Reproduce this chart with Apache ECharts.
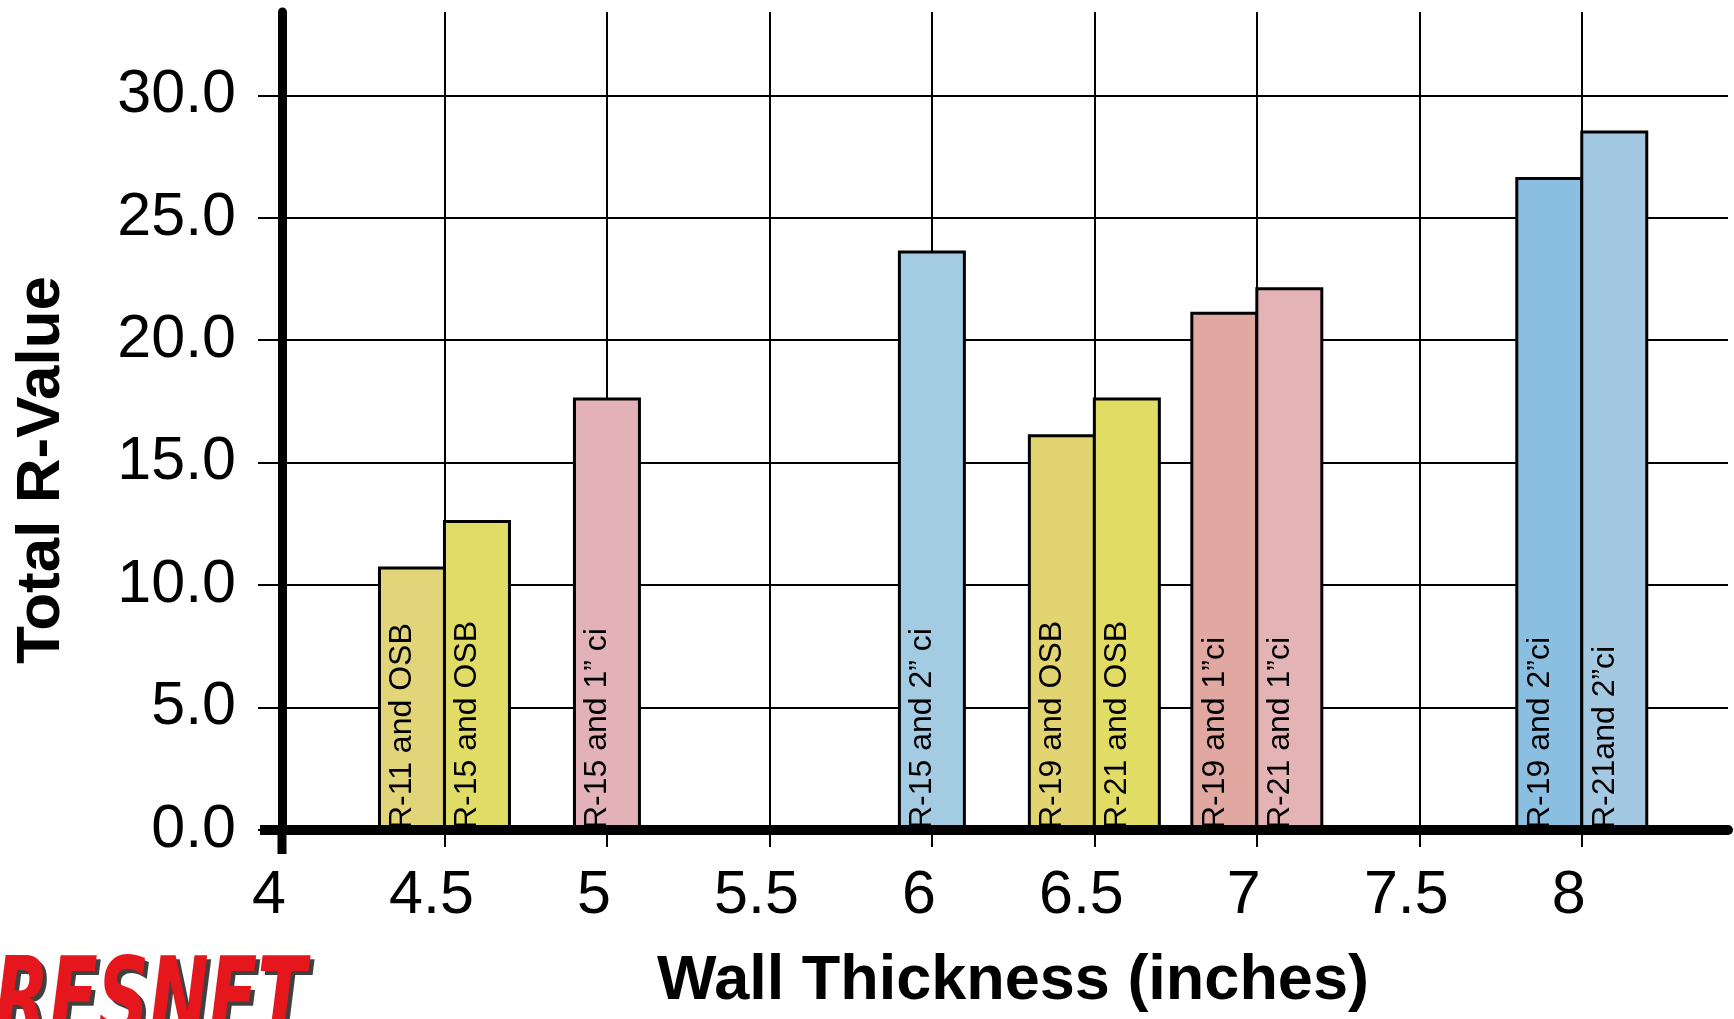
<!DOCTYPE html>
<html>
<head>
<meta charset="utf-8">
<title>Total R-Value by Wall Thickness</title>
<script src="https://cdn.jsdelivr.net/npm/echarts@6/dist/echarts.min.js"></script>
<style>
  html, body { margin: 0; padding: 0; background: #fff; }
  #chart { width: 1734px; height: 1019px; }
</style>
</head>
<body>
<div id="chart"></div>
<script>
// Wall assemblies: cavity insulation + sheathing / continuous insulation
const assemblies = [
  'R-11 and OSB', 'R-15 and OSB', 'R-15 and 1\u201D ci', 'R-15 and 2\u201D ci',
  'R-19 and OSB', 'R-21 and OSB', 'R-19 and 1\u201Dci', 'R-21 and 1\u201Dci',
  'R-19 and 2\u201Dci', 'R-21and 2\u201Dci'
];
// Nominal wall thickness (inches) for each assembly
const wallThickness = [4.5, 4.5, 5, 6, 6.5, 6.5, 7, 7, 8, 8];
// Total R-value of each assembly
const totalRValue = [10.7, 12.6, 17.6, 23.6, 16.1, 17.6, 21.1, 22.1, 26.6, 28.5];
const barColors = [
  '#E2D478', '#E1DC66', '#E3B2B9', '#A3CCE2', '#E2D470',
  '#E1DD64', '#E1A8A2', '#E3B3B5', '#8ABFE2', '#A3C9E2'
];
const xTicks = [4, 4.5, 5, 5.5, 6, 6.5, 7, 7.5, 8];
const yTicks = [0, 5, 10, 15, 20, 25, 30];

const FONT = '"Liberation Sans", Arial, Helvetica, sans-serif';
const BAR_W = 0.2;      // bar width, in inches along the x axis
const Y_STUB = 24;      // y axis line continues below the zero line
const X_STUB = 22;      // zero line continues left of the y axis

// Bars sharing one thickness stand side by side, centred on that thickness
const barCentre = wallThickness.map((t, i) => {
  const group = [];
  wallThickness.forEach((v, j) => { if (v === t) group.push(j); });
  const k = group.indexOf(i);
  return t + (k - (group.length - 1) / 2) * BAR_W;
});

function renderBar(params, api) {
  const i = params.dataIndex;
  const c = api.value(0);
  const v = api.value(1);
  const topLeft = api.coord([c - BAR_W / 2, v]);
  const bottomRight = api.coord([c + BAR_W / 2, 0]);
  return {
    type: 'group',
    children: [
      {
        type: 'rect',
        shape: {
          x: topLeft[0], y: topLeft[1],
          width: bottomRight[0] - topLeft[0],
          height: bottomRight[1] - topLeft[1]
        },
        style: { fill: barColors[i], stroke: '#000', lineWidth: 3 }
      },
      {
        type: 'text',
        x: topLeft[0] + 23,
        y: bottomRight[1] - 1,
        rotation: Math.PI / 2,
        style: {
          text: assemblies[i],
          fill: '#000',
          font: '32px ' + FONT,
          align: 'left',
          verticalAlign: 'middle'
        }
      }
    ]
  };
}

const chart = echarts.init(document.getElementById('chart'), null, { renderer: 'canvas' });

const option = {
  animation: false,
  backgroundColor: '#fff',
  grid: { left: 282, right: 6, top: 12, bottom: 189, outerBoundsMode: 'none' },
  xAxis: [
    {
      type: 'value',
      min: 4,
      max: 8.45,
      axisLine: { show: false },
      axisTick: {
        show: true, length: 17, customValues: xTicks,
        lineStyle: { color: '#000', width: 2 }
      },
      axisLabel: {
        customValues: xTicks,
        margin: 36,
        fontSize: 61,
        color: '#000',
        fontFamily: FONT,
        padding: [0, 26, 0, 0],
        formatter: v => String(v)
      },
      splitLine: { show: true, lineStyle: { color: '#000', width: 2 } },
      name: 'Wall Thickness (inches)',
      nameLocation: 'middle',
      nameGap: 120,
      nameTextStyle: {
        fontSize: 63, fontWeight: 'bold', color: '#000', fontFamily: FONT,
        padding: [0, 0, 0, 16]
      }
    },
    {
      // heavy zero line drawn above the bars
      type: 'value',
      min: 4,
      max: 8.45,
      position: 'bottom',
      z: 5,
      axisLine: { show: true, lineStyle: { color: '#000', width: 10 } },
      axisTick: { show: false },
      axisLabel: { show: false },
      splitLine: { show: false }
    }
  ],
  yAxis: {
    type: 'value',
    min: 0,
    max: 33.4,
    axisLine: { show: true, lineStyle: { color: '#000', width: 9 } },
    axisTick: {
      show: true, length: 24, customValues: yTicks,
      lineStyle: { color: '#000', width: 2 }
    },
    axisLabel: {
      customValues: yTicks,
      margin: 46,
      fontSize: 61,
      color: '#000',
      fontFamily: FONT,
      formatter: v => v.toFixed(1)
    },
    splitLine: { show: true, lineStyle: { color: '#000', width: 2 } },
    name: 'Total R-Value',
    nameLocation: 'middle',
    nameRotate: 90,
    nameGap: 209,
    nameTextStyle: {
      fontSize: 62, fontWeight: 'bold', color: '#000', fontFamily: FONT,
      padding: [0, 98, 0, 0]
    }
  },
  series: [
    {
      type: 'custom',
      name: 'Total R-Value',
      xAxisIndex: 0,
      yAxisIndex: 0,
      z: 2,
      renderItem: renderBar,
      encode: { x: 0, y: 1 },
      data: barCentre.map((c, i) => [c, totalRValue[i]])
    }
  ]
};

chart.setOption(option);

// Axis line stubs crossing at the origin, and the RESNET mark
const origin = chart.convertToPixel({ gridIndex: 0 }, [4, 0]);
const LOGO_FONT = 'italic bold 88px "Liberation Sans Narrow", "DejaVu Sans Condensed", ' + FONT;
chart.setOption({
  graphic: [
    {
      type: 'line', z: 10,
      shape: { x1: origin[0], y1: origin[1], x2: origin[0], y2: origin[1] + Y_STUB },
      style: { stroke: '#000', lineWidth: 9 }
    },
    {
      type: 'line', z: 10,
      shape: { x1: origin[0] - X_STUB, y1: origin[1], x2: origin[0], y2: origin[1] },
      style: { stroke: '#000', lineWidth: 10 }
    },
    {
      type: 'text', x: -2, y: 956, scaleX: 0.9, scaleY: 1.25, z: 10,
      style: {
        text: 'RESNET', font: LOGO_FONT, verticalAlign: 'top',
        fill: 'rgba(0,0,0,0.75)', shadowBlur: 4, shadowColor: 'rgba(0,0,0,0.6)'
      }
    },
    {
      type: 'text', x: -6, y: 952, scaleX: 0.9, scaleY: 1.25, z: 11,
      style: { text: 'RESNET', font: LOGO_FONT, verticalAlign: 'top', fill: '#E5161C' }
    }
  ]
});
</script>
</body>
</html>
